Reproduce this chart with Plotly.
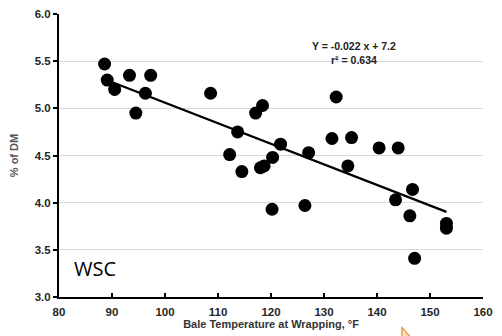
import numpy as np
import plotly.graph_objects as go

# Data
temp_f = [88.6, 89.1, 90.5, 93.3, 94.5, 96.3, 97.3, 108.6, 112.2, 113.7, 114.5,
          117.1, 118.4, 118.0, 118.7, 120.3, 120.2, 121.8, 126.4, 127.1, 131.5,
          132.3, 134.5, 135.2, 140.4, 143.5, 144.0, 146.2, 146.7, 147.1, 153.1, 153.1]
wsc_pct = [5.47, 5.30, 5.20, 5.35, 4.95, 5.16, 5.35, 5.16, 4.51, 4.75, 4.33,
           4.95, 5.03, 4.37, 4.39, 4.48, 3.93, 4.62, 3.97, 4.53, 4.68,
           5.12, 4.39, 4.69, 4.58, 4.03, 4.58, 3.86, 4.14, 3.41, 3.78, 3.73]

x_ticks = [80, 90, 100, 110, 120, 130, 140, 150, 160]
y_ticks = [3.0, 3.5, 4.0, 4.5, 5.0, 5.5, 6.0]
equation_text = "Y = -0.022 x + 7.2<br>r² = 0.634"
panel_label = "WSC"

slope, intercept = np.polyfit(temp_f, wsc_pct, 1)
x_fit = [min(temp_f), max(temp_f)]
y_fit = [slope * v + intercept for v in x_fit]

fig = go.Figure()
fig.add_trace(go.Scatter(x=x_fit, y=y_fit, mode="lines",
                         line=dict(color="black", width=2.2), hoverinfo="skip"))
fig.add_trace(go.Scatter(x=temp_f, y=wsc_pct, mode="markers",
                         marker=dict(color="black", size=13)))

FONT = "Liberation Sans, Arial"
tick_font = dict(family=FONT, size=11.5, color="#262626", weight="bold")

fig.update_layout(
    width=502, height=336,
    margin=dict(l=59, r=19, t=14, b=39),
    paper_bgcolor="white", plot_bgcolor="white",
    showlegend=False,
    font=dict(family=FONT),
    xaxis=dict(
        range=[80, 160], tickmode="array", tickvals=x_ticks,
        ticktext=[str(t) for t in x_ticks],
        showgrid=False, zeroline=False, automargin=False,
        showline=True, linecolor="black", linewidth=2,
        ticks="inside", ticklen=4, tickwidth=1.5, tickcolor="black",
        ticklabelstandoff=3,
        tickfont=tick_font,
        title=dict(text="Bale Temperature at Wrapping, °F",
                   font=dict(family=FONT, size=11, color="#333333", weight="bold"),
                   standoff=2),
    ),
    yaxis=dict(
        range=[3.0, 6.0], tickmode="array", tickvals=y_ticks,
        ticktext=[f"{t:.1f}" for t in y_ticks],
        showgrid=True, gridcolor="#d9d9d9", gridwidth=1, zeroline=False,
        automargin=False,
        showline=True, linecolor="black", linewidth=2,
        ticks="outside", ticklen=4, tickwidth=1.5, tickcolor="black",
        tickfont=tick_font,
        title=dict(text="% of DM",
                   font=dict(family=FONT, size=11, color="#555555", weight="bold"),
                   standoff=14),
    ),
)

fig.add_annotation(x=0.8, y=0.915, xref="paper", yref="paper",
                   text=equation_text, showarrow=False,
                   font=dict(family=FONT, size=10.5, color="#222222", weight="bold"),
                   align="center")
fig.add_annotation(x=0.031, y=0.045, xref="paper", yref="paper",
                   xanchor="left", yanchor="bottom",
                   text=panel_label, showarrow=False,
                   font=dict(family="Open Sans", size=20, color="black"))

# small orange cursor glyph at the bottom (decoration)
def px(xp, yp):
    return (xp - 59.3) / 423.7, (297.3 - yp) / 283.3
pts = [px(402, 328), px(402, 338), px(411, 338)]
path = "M {:.4f} {:.4f} L {:.4f} {:.4f} L {:.4f} {:.4f} Z".format(*pts[0], *pts[1], *pts[2])
fig.add_shape(type="path", path=path, xref="paper", yref="paper",
              line=dict(color="#f08a24", width=1.2), fillcolor="#fde3c8")

fig.write_html("out.html")
